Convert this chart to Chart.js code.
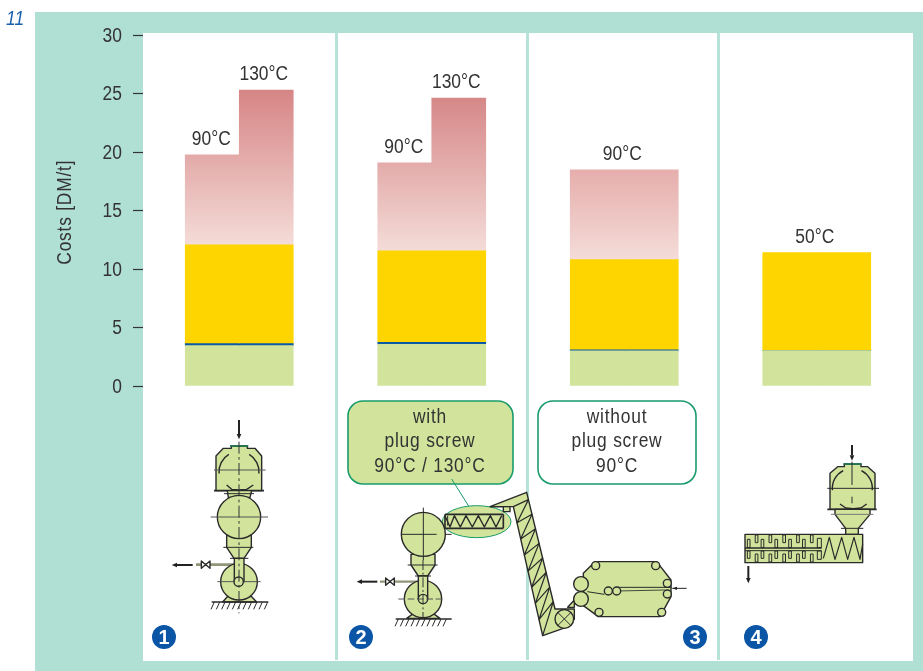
<!DOCTYPE html>
<html><head><meta charset="utf-8">
<style>html,body{margin:0;padding:0;background:#fff}canvas{display:block}</style>
<script src="https://cdn.jsdelivr.net/npm/chart.js@4"></script>
</head><body>
<canvas id="c" width="923" height="671"></canvas>
<script>
const categories = ['1','2','3','4'];
const yTicks = [0,5,10,15,20,25,30];
const greenBase = [3.45,3.57,3.0,3.03];
const blueLine = [0.17,0.17,0.1,0];
const yellow = [8.45,7.82,7.7,8.37];
const heat90 = [7.68,7.51,7.67,0];
const heat130 = [13.23,13.04,7.67,0];
const labelsLeft = ['90°C','90°C','90°C','50°C'];
const labelsRight = ['130°C','130°C','',''];
const heatTopColors = ['#d68585','#d68888','#e6aeac','#e6aeac'];
const yTitle = 'Costs [DM/t]';
const FONT = '"Liberation Sans",sans-serif';
const TEAL='#b0dfd3', SEP='#b6e2d8', GREEN='#d2e49c', YEL='#ffd500', BLUE='#0a5aa5', INK='#2a2a2a', BOX='#1a9b6c';

function heatFill(ctx){
  const chart=ctx.chart, y=chart.scales.y, i=ctx.dataIndex;
  if(!y||i===undefined||!chart.chartArea) return '#e6aeac';
  const base=greenBase[i]+blueLine[i]+yellow[i];
  const y0=y.getPixelForValue(base+heat130[i]), y1=y.getPixelForValue(base);
  if(!isFinite(y0)||!isFinite(y1)) return '#e6aeac';
  const g=chart.ctx.createLinearGradient(0,y0,0,y1);
  g.addColorStop(0,heatTopColors[i]); g.addColorStop(1,'#f4dcd8');
  return g;
}
function ds(data,color,stack){return {data,backgroundColor:color,stack,borderWidth:0,barThickness:54};}

function poly(c,p,fill,stroke){c.beginPath();p.forEach((q,i)=>i?c.lineTo(q[0],q[1]):c.moveTo(q[0],q[1]));c.closePath();
  if(fill!==false)c.fill(); if(stroke!==false)c.stroke();}
function line(c,a,b,d,e,w,col,dash){c.save();if(w)c.lineWidth=w;if(col)c.strokeStyle=col;if(dash)c.setLineDash(dash);c.beginPath();c.moveTo(a,b);c.lineTo(d,e);c.stroke();c.restore();}
function circ(c,x,y,r){c.beginPath();c.arc(x,y,r,0,Math.PI*2);c.fill();c.stroke();}
function path(c,p,w){c.save();if(w)c.lineWidth=w;c.beginPath();p.forEach((q,i)=>i?c.lineTo(q[0],q[1]):c.moveTo(q[0],q[1]));c.stroke();c.restore();}
function arrow(c,x1,y1,x2,y2){
  c.save();c.lineWidth=6;c.strokeStyle='#222';c.fillStyle='#222';
  const a=Math.atan2(y2-y1,x2-x1),ux=Math.cos(a),uy=Math.sin(a),l=16;
  c.beginPath();c.moveTo(x1,y1);c.lineTo(x2-ux*l,y2-uy*l);c.stroke();
  c.beginPath();c.moveTo(x2,y2);c.lineTo(x2-ux*l-uy*7,y2-uy*l+ux*7);c.lineTo(x2-ux*l+uy*7,y2-uy*l-ux*7);c.closePath();c.fill();c.restore();
}
function zoomed(c,ox,oy,fn){c.save();c.translate(ox,oy);c.scale(1/3,1/3);c.fillStyle=GREEN;c.strokeStyle=INK;c.lineWidth=4.2;c.lineJoin='round';fn(c);c.restore();}
function hatch(c,x1,x2,y){line(c,x1,y,x2,y,4.5);for(let x=x1+8;x<x2;x+=16)line(c,x,y,x-10,y+22,3);}
function valve(c,x,y){c.save();c.fillStyle='#fff';poly(c,[[x,y-11],[x+26,y+11],[x+26,y-11],[x,y+11]]);c.restore();}

function diagram1(c){
  arrow(c,297,60,297,118);
  poly(c,[[228,168],[250,145],[274,145],[274,138],[322,138],[322,145],[345,145],[365,168],[365,272],[228,272]]);
  line(c,270,138,325,138,5,'#1f7a55');
  c.beginPath();c.arc(297,215,60,Math.PI*0.97,Math.PI*1.33);c.stroke();
  c.beginPath();c.arc(297,215,60,Math.PI*1.67,Math.PI*0.03+Math.PI*2);c.stroke();
  line(c,222,210,377,210,3,'#555');
  line(c,222,272,372,272,5);
  path(c,[[260,255],[275,268],[297,270],[320,268],[340,255]]);
  poly(c,[[262,272],[335,272],[330,292],[265,292]]);
  line(c,252,281,342,281,3);
  poly(c,[[260,405],[334,405],[334,442],[312,475],[282,475],[260,442]]);
  circ(c,297,351,65);
  line(c,212,351,384,351,3,'#555');
  line(c,250,442,340,442,3);line(c,270,475,325,475,3);
  line(c,168,494,283,494,8,'#8f9678');
  poly(c,[[248,606],[262,590],[335,590],[350,606]]);
  circ(c,297,545,55);
  line(c,232,545,362,545,3,'#555');
  poly(c,[[283,475],[312,475],[312,545],[283,545]]);
  circ(c,296,545,14);
  valve(c,184,494);
  arrow(c,158,495,95,495);
  hatch(c,215,385,606);
  line(c,297,125,297,640,3,'#333',[36,10,8,10]);
}
function diagram2(c){
  c.save();c.strokeStyle=BOX;c.lineWidth=3;line(c,350,252,402,335,3,BOX);
  c.beginPath();c.ellipse(425,380,103,48,0,0,Math.PI*2);c.fill();c.stroke();c.restore();
  poly(c,[[228,478],[300,478],[300,510],[278,543],[250,543],[228,510]]);
  circ(c,265,418,66);
  line(c,265,338,265,495,3);line(c,200,418,305,418,3);
  line(c,218,510,308,510,3);line(c,240,543,288,543,3);
  line(c,135,560,248,560,7,'#8f9678');
  poly(c,[[215,670],[240,652],[290,652],[315,670]]);
  circ(c,264,612,56);
  poly(c,[[250,543],[278,543],[278,612],[250,612]]);
  circ(c,264,612,14);
  line(c,190,612,330,612,3,'#555',[20,8]);
  line(c,264,495,264,668,3,'#333',[30,8,6,8]);
  valve(c,152,560);
  arrow(c,127,560,65,560);
  hatch(c,182,350,672);
  line(c,330,358,505,358,5);line(c,330,400,505,400,5);line(c,505,358,505,400,5);line(c,330,358,330,400,5);line(c,332,418,350,418,3);
  path(c,[[330,362],[345,396],[358,362],[376,396],[393,362],[412,396],[430,362],[448,396],[466,362],[483,396],[500,362]],4.2);
  path(c,[[338,362],[338,392]],3);
  poly(c,[[465,335],[575,292],[660,642],[718,642],[718,672],[700,695],[623,722],[535,335],[525,335],[525,350],[505,350],[505,335]]);
  const L=[[535,335],[623,722]],R=[[575,292],[660,642]],n=16;
  const zig=[];for(let i=0;i<=n;i++){const t=i/n;
    const s=i%2?R:L;zig.push([s[0][0]+(s[1][0]-s[0][0])*t,s[0][1]+(s[1][1]-s[0][1])*t]);}
  path(c,zig,3.6);
  circ(c,688,672,28);
  line(c,668,652,708,692,3);line(c,708,652,668,692,3);
  line(c,465,335,525,335,4);
  poly(c,[[780,500],[965,500],[1008,555],[1008,605],[975,665],[790,665],[745,632],[745,535]]);
  poly(c,[[698,637],[718,615],[718,637]]);
  line(c,845,577,1010,577,3);line(c,757,590,808,598,3);
  line(c,845,588,990,585,2.5);
  [[782,512],[962,512],[997,565],[997,597],[792,652],[980,652]].forEach(q=>circ(c,q[0],q[1],12));
  circ(c,738,567,22);circ(c,738,612,22);
  circ(c,820,588,12);circ(c,845,588,12);
  line(c,1012,580,1055,580,3,'#222');
  c.save();c.fillStyle='#222';poly(c,[[1012,580],[1026,575],[1026,585]],undefined,false);c.restore();
}
function diagram4(c){
  arrow(c,411,75,411,122);
  poly(c,[[345,160],[368,140],[388,140],[388,132],[438,132],[438,140],[458,140],[480,160],[480,268],[345,268]]);
  line(c,385,132,440,132,5,'#1f7a55');
  line(c,411,125,411,195,3);line(c,411,230,411,250,3);
  c.beginPath();c.arc(412,205,60,Math.PI*0.97,Math.PI*1.35);c.stroke();
  c.beginPath();c.arc(412,205,60,Math.PI*1.65,Math.PI*2.03);c.stroke();
  line(c,337,205,492,205,3);
  path(c,[[375,252],[392,264],[415,266],[438,264],[455,252]]);
  line(c,337,268,485,268,5);
  poly(c,[[360,268],[465,268],[465,283],[430,325],[430,343],[392,343],[392,325],[360,283]]);
  line(c,348,283,475,283,3,'#777');line(c,378,325,445,325,3);
  poly(c,[[90,343],[443,343],[443,428],[90,428]]);
  line(c,90,384,320,384,4);line(c,90,392,320,392,3);
  c.save();c.lineWidth=3;
  for(let k=0;k<10;k++){
    const x=97+k*20.7, up=k%2===0;
    c.strokeRect(x+(up?0:3),up?358:345,8,up?25:23);
    c.strokeRect(x+(up?0:3),up?393:402,8,up?22:24);
  }
  c.strokeRect(307,355,12,28);c.strokeRect(307,393,12,25);
  c.restore();
  path(c,[[325,415],[343,352],[360,418],[380,352],[398,418],[417,352],[435,418],[443,372]],3.6);
  arrow(c,100,438,100,490);
}
function badge(c,x,y,t){
  c.save();c.fillStyle='#0a55a5';c.beginPath();c.arc(x,y,12,0,Math.PI*2);c.fill();
  c.fillStyle='#fff';c.font='bold 20px '+FONT;c.textAlign='center';c.textBaseline='middle';c.fillText(t,x,y);c.restore();
}
function rbox(c,x,y,w,h,r,fill,lines,cx){
  c.save();c.fillStyle=fill;c.strokeStyle=BOX;c.lineWidth=1.6;c.beginPath();c.roundRect(x,y,w,h,r);c.fill();c.stroke();
  c.fillStyle='#333';c.font='20.5px '+FONT;c.textAlign='center';c.textBaseline='middle';c.letterSpacing='0.9px';
  lines.forEach((l,i)=>c.fillText(l,cx,y+15+i*24.5));c.letterSpacing='0px';c.restore();
}
const panels={id:'panels',
  beforeDraw(chart){const c=chart.ctx;c.save();
    c.fillStyle='#fff';c.fillRect(0,0,923,671);
    c.fillStyle=TEAL;c.fillRect(35,12,888,659);
    c.fillStyle='#fff';c.fillRect(143,33,770,628);
    c.fillStyle=SEP;[335,526,717].forEach(x=>c.fillRect(x,33,3,627));
    c.fillStyle='#1860ac';c.font='italic 20.5px '+FONT;c.textBaseline='alphabetic';c.textAlign='left';c.fillText('11',6,25);
    c.restore();},
  afterDraw(chart){const c=chart.ctx,y=chart.scales.y;
    const mA=chart.getDatasetMeta(3),mB=chart.getDatasetMeta(7);
    c.save();c.fillStyle='#333';c.font='20.5px '+FONT;c.textAlign='center';c.textBaseline='middle';
    categories.forEach((_,i)=>{
      const base=greenBase[i]+blueLine[i]+yellow[i];
      const split=labelsRight[i]!=='';
      const xL=split?mA.data[i].x-1:(mA.data[i].x+mB.data[i].x)/2-2;
      c.fillText(labelsLeft[i],xL,y.getPixelForValue(base+heat90[i])-16.5);
      if(split)c.fillText(labelsRight[i],mB.data[i].x-2.5,y.getPixelForValue(base+heat130[i])-16.5);
    });
    c.restore();
    rbox(c,348,401,165,83,15,GREEN,['with','plug screw','90°C / 130°C'],430);
    rbox(c,538,401,158,83,15,'#fff',['without','plug screw','90°C'],617);
    zoomed(c,140,400,diagram1);
    zoomed(c,335,395,diagram2);
    zoomed(c,715,420,diagram4);
    badge(c,164,637,'1');badge(c,361,637,'2');badge(c,695,637,'3');badge(c,756,637,'4');
  }};
// No narrow face is installed, so all text is condensed horizontally when painted.
const canvas=document.getElementById('c'), g2d=canvas.getContext('2d'), rawFill=g2d.fillText.bind(g2d);
g2d.fillText=function(t,x,y){
  g2d.save();g2d.translate(x,y+(g2d.textBaseline==='middle'?1:0));
  g2d.scale(g2d.font.startsWith('bold')?1:0.85,1);
  if(t===yTitle){g2d.letterSpacing='0.9px';g2d.translate(-2,0);}
  rawFill(t,0,0);g2d.restore();
};
new Chart(canvas,{
  type:'bar',
  data:{labels:categories,datasets:[
    ds(greenBase,GREEN,'a'),ds(blueLine,BLUE,'a'),ds(yellow,YEL,'a'),ds(heat90,heatFill,'a'),
    ds(greenBase,GREEN,'b'),ds(blueLine,BLUE,'b'),ds(yellow,YEL,'b'),ds(heat130,heatFill,'b')]},
  options:{responsive:false,animation:false,devicePixelRatio:1,
    layout:{padding:{left:52,right:10,top:35,bottom:285}},
    plugins:{legend:{display:false},tooltip:{enabled:false}},
    scales:{
      x:{display:false,stacked:true,offset:true,grid:{display:false}},
      y:{stacked:true,min:yTicks[0],max:yTicks[yTicks.length-1],
        afterFit(s){s.width=91;},
        afterBuildTicks(s){s.ticks=yTicks.map(v=>({value:v}));},
        border:{display:false},
        grid:{drawOnChartArea:false,drawTicks:true,tickLength:10,tickColor:'#333',tickWidth:1.2},
        ticks:{color:'#333',padding:11,font:{family:FONT,size:20.5},callback:v=>String(v)},
        title:{display:true,text:yTitle,color:'#333',padding:0,font:{family:FONT,size:20.5}}
      }}
  },
  plugins:[panels]
});
</script>
</body></html>
